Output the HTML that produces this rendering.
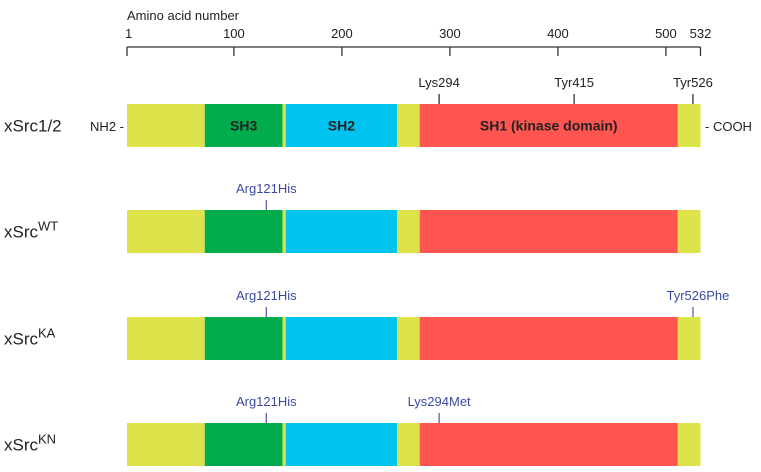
<!DOCTYPE html>
<html><head><meta charset="utf-8"><style>
html,body{margin:0;padding:0;background:#fff;}
svg{display:block;font-family:"Liberation Sans",Arial,sans-serif;}
</style></head><body>
<svg id="c" width="761" height="472" viewBox="0 0 761 472"></svg>
<script>
const axisTicks = [1, 100, 200, 300, 400, 500, 532];
const domainStarts = [1, 73, 145, 148, 251, 272, 511];
const domainEnds = [73, 145, 148, 251, 272, 511, 532];
const domainKinds = ["linker", "SH3", "linker", "SH2", "linker", "SH1", "linker"];
const domainLabels = ["", "SH3", "", "SH2", "", "SH1 (kinase domain)", ""];
const rowNames = ["xSrc1/2", "xSrcWT", "xSrcKA", "xSrcKN"];
const siteLabels = ["Lys294", "Tyr415", "Tyr526"];
const sitePositions = [290, 415, 525];
const mutRow = [1, 2, 2, 3, 3];
const mutLabels = ["Arg121His", "Arg121His", "Tyr526Phe", "Arg121His", "Lys294Met"];
const mutPositions = [130, 130, 525, 130, 290];

const NS = "http://www.w3.org/2000/svg";
const svg = document.getElementById("c");
const x0 = 127, x1 = 700.5;
function xs(a){ return x0 + (a - 1) * (x1 - x0) / 531; }
const rowTop = [104, 210, 317, 423];
const barH = 43;
const colors = {linker:"#dde24b", SH3:"#00ac4c", SH2:"#00c4f0", SH1:"#ff5550"};
function el(tag, attrs, parent){
  const e = document.createElementNS(NS, tag);
  for (const k in attrs) e.setAttribute(k, attrs[k]);
  (parent || svg).appendChild(e);
  return e;
}
let t = el("text", {x:127, y:20, "font-size":13, fill:"#222"});
t.textContent = "Amino acid number";


let ax = el("line", {x1:xs(1), x2:xs(532), y1:47, y2:47, stroke:"#333", "stroke-width":1.3});


axisTicks.forEach((v, i) => {
  const tk = el("line", {x1:xs(v), x2:xs(v), y1:47, y2:56, stroke:"#333", "stroke-width":1.3});
  
  
  const lb = el("text", {x:xs(v), y:38, "font-size":13, fill:"#222", "text-anchor": i === 0 ? "start" : "middle"});
  if (i === 0) lb.setAttribute("x", xs(v) - 2);
  lb.textContent = v;
  
  
});
rowNames.forEach((name, r) => {
  const y = rowTop[r];
  domainStarts.forEach((s, i) => {
    const rc = el("rect", {x:xs(s), y:y, width:xs(domainEnds[i]) - xs(s), height:barH, fill:colors[domainKinds[i]]});
    
    
    if (r === 0 && domainLabels[i]) {
      const dl = el("text", {x:(xs(s) + xs(domainEnds[i])) / 2, y:y + barH / 2 + 5, "font-size":14, "font-weight":"bold", fill:"#222", "text-anchor":"middle"});
      dl.textContent = domainLabels[i];
      
      
    }
  });
  const rl = el("text", {x:4, y:y + barH / 2 + 6, "font-size":17, fill:"#222"});
  
  
  if (r === 0) rl.textContent = name;
  else {
    rl.textContent = "xSrc";
    const sup = el("tspan", {"font-size":13, dy:-7}, rl);
    sup.textContent = name.slice(4);
  }
});
let nh = el("text", {x:124, y:rowTop[0] + 27, "font-size":13, fill:"#222", "text-anchor":"end"});
nh.textContent = "NH2 -";


let co = el("text", {x:705, y:rowTop[0] + 27, "font-size":13, fill:"#222"});
co.textContent = "- COOH";


siteLabels.forEach((s, i) => {
  const px = xs(sitePositions[i]);
  const ln = el("line", {x1:px, x2:px, y1:rowTop[0] - 10, y2:rowTop[0], stroke:"#333", "stroke-width":1.3});
  
  
  const lb = el("text", {x:px, y:rowTop[0] - 17, "font-size":13, fill:"#222", "text-anchor":"middle"});
  lb.textContent = s;
  
  
});
mutLabels.forEach((m, i) => {
  const px = xs(mutPositions[i]);
  const y = rowTop[mutRow[i]];
  const ln = el("line", {x1:px, x2:px, y1:y - 10, y2:y, stroke:"#6a5aa8", "stroke-width":1.3});
  
  
  const lb = el("text", {x:px + (mutPositions[i] > 500 ? 5 : 0), y:y - 17, "font-size":13, fill:"#3a4aa0", "text-anchor":"middle"});
  lb.textContent = m;
  
  
});
</script>
</body></html>
